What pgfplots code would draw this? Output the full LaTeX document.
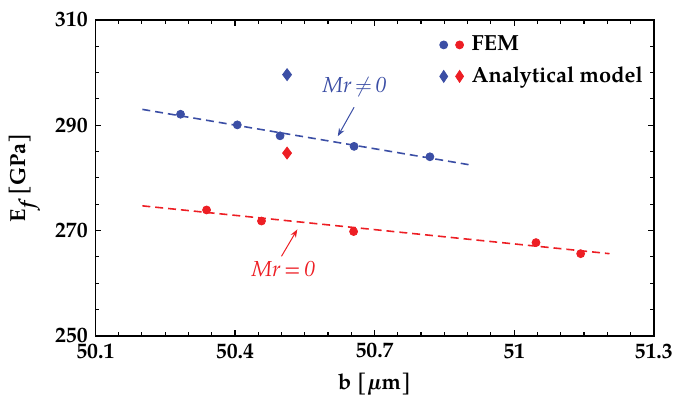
\documentclass[11pt,border=0pt]{standalone}
\usepackage{fontspec}
\setmainfont{TeX Gyre Pagella}
\usepackage{pgfplots}
\pgfplotsset{compat=1.18}
\usetikzlibrary{arrows.meta}
\definecolor{cblue}{RGB}{59,78,165}
\definecolor{cred}{RGB}{237,30,36}
\newcommand{\legfont}{\fontsize{11}{13}\selectfont\bfseries}
\begin{document}
\begin{tikzpicture}
\begin{axis}[
  at={(0,0)}, anchor=south west,
  scale only axis, width=281pt, height=159pt,
  xmin=50.1, xmax=51.3, ymin=250, ymax=310,
  xtick={50.1,50.4,50.7,51,51.3}, ytick={250,270,290,310},
  xticklabels={50.1,50.4,50.7,51,51.3}, yticklabels={250,270,290,310},
  minor x tick num=5, minor y tick num=3,
  tick align=inside, tick pos=both,
  major tick length=3pt, minor tick length=2pt,
  axis line style={line width=0.8pt},
  every tick/.style={black, line width=0.6pt},
  tick label style={font=\bfseries},
  /pgf/number format/assume math mode=true,
  xlabel={\textbf{b [\textit{µ}m]}},
  ylabel={\textbf{E$_{\textit{f}}$ [GPa]}},
  legend style={draw=none, fill=none, at={(axis cs:50.835,307.8)}, anchor=north west,
    font=\legfont, row sep=2.5pt, inner sep=0pt},
  legend cell align=left,
]
% trend lines
\addplot[cblue, dashed, line width=0.8pt, dash pattern=on 4pt off 2.5pt, forget plot]
  coordinates {(50.201,293.0) (50.906,282.45)};
\addplot[cred, dashed, line width=0.8pt, dash pattern=on 4pt off 2.5pt, forget plot]
  coordinates {(50.201,274.68) (51.205,265.6)};
% FEM
\addplot[only marks, mark=*, mark size=2pt, cblue, forget plot]
  coordinates {(50.283,292.08) (50.405,290.06) (50.497,287.98) (50.656,285.98) (50.819,284.0)};
\addplot[only marks, mark=*, mark size=2pt, cred, forget plot]
  coordinates {(50.339,273.9) (50.457,271.8) (50.655,269.8) (51.047,267.7) (51.143,265.6)};
% Analytical
\addplot[only marks, mark=diamond*, mark size=3pt, cblue, forget plot]
  coordinates {(50.512,299.6)};
\addplot[only marks, mark=diamond*, mark size=3pt, cred, forget plot]
  coordinates {(50.512,284.7)};
% legend
\addlegendimage{legend image code/.code={
  \fill[cblue] (2pt,0pt) circle (2pt);
  \fill[cred] (10pt,0pt) circle (2pt);
  \path[draw=none,fill=none] (-1pt,-1pt) rectangle (14pt,1pt);}}
\addlegendentry{\legfont FEM}
\addlegendimage{legend image code/.code={
  \fill[cblue] (2pt,3pt) -- (4pt,0pt) -- (2pt,-3pt) -- (0pt,0pt) -- cycle;
  \fill[cred] (10pt,3pt) -- (12pt,0pt) -- (10pt,-3pt) -- (8pt,0pt) -- cycle;
  \path[draw=none,fill=none] (-1pt,-1pt) rectangle (14pt,1pt);}}
\addlegendentry{\legfont Analytical model}
% annotations
\node[cblue, font=\itshape] at (axis cs:50.657,297.2) {Mr\,$\neq$\,0};
\draw[cblue, line width=0.5pt, -{Stealth[length=4pt,width=3pt]}]
  (axis cs:50.656,293.4) -- (axis cs:50.621,287.9);
\node[cred, font=\itshape] at (axis cs:50.504,262.7) {Mr\,=\,0};
\draw[cred, line width=0.5pt, -{Stealth[length=4pt,width=3pt]}]
  (axis cs:50.50,265.1) -- (axis cs:50.534,270.2);
\end{axis}
\path (-48pt,-32pt) rectangle (292pt,169pt);
\end{tikzpicture}
\end{document}
